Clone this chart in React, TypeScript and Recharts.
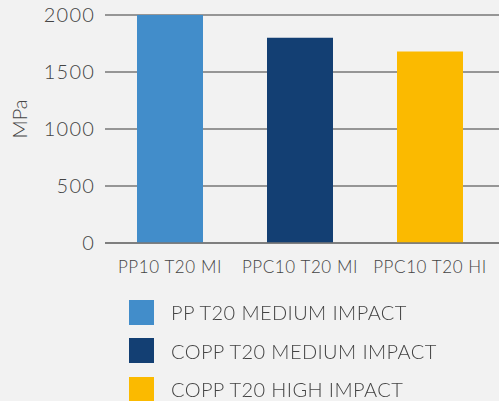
import { BarChart, Bar, XAxis, YAxis, CartesianGrid, Legend } from 'recharts'

const categories = ['PP10 T20 MI', 'PPC10 T20 MI', 'PPC10 T20 HI']
const seriesNames = ['PP T20 MEDIUM IMPACT', 'COPP T20 MEDIUM IMPACT', 'COPP T20 HIGH IMPACT']
const seriesValues = [2000, 1800, 1680]
const seriesColors = ['#428dca', '#133f73', '#fbba00']
const yTicks = [0, 500, 1000, 1500, 2000]

const keys = ['s0', 's1', 's2']

// one row per category, only its own series has a value
const data = categories.map((name, i) => {
  const row: Record<string, string | number | null> = { name }
  keys.forEach((k, j) => {
    row[k] = i === j ? seriesValues[j] : null
  })
  return row
})

const FONT = 'Lato, "Open Sans", sans-serif'
const TEXT = '#555555'

// eslint-disable-next-line @typescript-eslint/no-explicit-any
function LegendRows(props: any) {
  // stacked bars come back in reverse order
  const payload = [...(props.payload || [])].reverse()
  return (
    <div style={{ paddingLeft: 129 }}>
      {/* eslint-disable-next-line @typescript-eslint/no-explicit-any */}
      {payload.map((entry: any) => (
        <div
          key={entry.value}
          style={{ display: 'flex', alignItems: 'center', height: 38.5 }}
        >
          <span style={{ width: 25, height: 25, background: entry.color, display: 'inline-block' }} />
          <span
            style={{
              marginLeft: 17,
              fontFamily: FONT,
              fontSize: 20,
              fontWeight: 300,
              color: '#444444',
              letterSpacing: 0.4,
            }}
          >
            {entry.value}
          </span>
        </div>
      ))}
    </div>
  )
}

// eslint-disable-next-line @typescript-eslint/no-explicit-any
function AxisTitle(props: any) {
  const vb = props.viewBox
  const x = 19
  const y = vb.y + vb.height / 2 - 10
  return (
    <text
      x={x}
      y={y}
      transform={`rotate(-90 ${x} ${y})`}
      textAnchor="middle"
      dominantBaseline="central"
      fontFamily={FONT}
      fontSize={20}
      fontWeight={300}
      fill="#444444"
    >
      MPa
    </text>
  )
}

export default function App() {
  return (
    <div style={{ position: 'fixed', top: 0, left: 0, width: 499, height: 401, background: '#f2f2f2' }}>
      <BarChart
        width={499}
        height={401}
        data={data}
        margin={{ top: 15, right: 0, left: 0, bottom: 0 }}
        barSize={66}
      >
        <CartesianGrid vertical={false} stroke="#777777" strokeWidth={1.5} />
        <XAxis
          dataKey="name"
          height={42}
          axisLine={{ stroke: '#777777', strokeWidth: 1.5 }}
          tickLine={false}
          tickSize={0}
          tickMargin={18}
          padding={{ left: 0, right: 4 }}
          tick={{ fontFamily: FONT, fontSize: 17, fontWeight: 300, fill: '#444444', letterSpacing: 0.6 }}
          interval={0}
        />
        <YAxis
          width={105}
          domain={[0, 2000]}
          ticks={yTicks}
          axisLine={false}
          tickLine={false}
          tickSize={0}
          tickMargin={10}
          tick={{ fontFamily: FONT, fontSize: 20, fontWeight: 300, fill: '#444444', letterSpacing: 1.2 }}
          label={<AxisTitle />}
        />
        <Legend
          verticalAlign="bottom"
          layout="vertical"
          height={116}
          wrapperStyle={{ top: 293, left: 0, width: 499 }}
          content={<LegendRows />}
        />
        {keys.map((k, j) => (
          <Bar
            key={k}
            dataKey={k}
            name={seriesNames[j]}
            fill={seriesColors[j]}
            stackId="a"
            isAnimationActive={false}
          />
        ))}
      </BarChart>
    </div>
  )
}
